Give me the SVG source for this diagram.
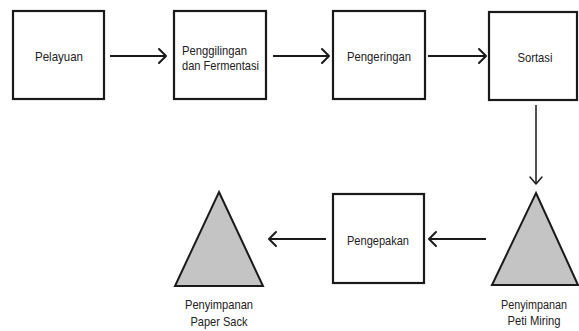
<svg xmlns="http://www.w3.org/2000/svg" width="579" height="331" viewBox="0 0 579 331">
<style>
.box{fill:#fff;stroke:#1a1a1a;stroke-width:2.2}
.tri{fill:#c4c4c4;stroke:#1a1a1a;stroke-width:2}
.ln{stroke:#1a1a1a;stroke-width:2;fill:none}
.hd{stroke:#1a1a1a;stroke-width:2;fill:none;stroke-linecap:round;stroke-linejoin:round}
text{font-family:"Liberation Sans",Arial,sans-serif;font-size:13px;fill:#222}
.c{text-anchor:middle}
.s{font-size:12.5px}
</style>
<rect width="579" height="331" fill="#fff"/>
<g id="connectors">
<line class="ln" x1="110" y1="56" x2="166" y2="56"/><polyline class="hd" points="159,49 166,56 159,63"/>
<line class="ln" x1="273" y1="56" x2="329" y2="56"/><polyline class="hd" points="322,49 329,56 322,63"/>
<line class="ln" x1="428" y1="56" x2="486" y2="56"/><polyline class="hd" points="479,49 486,56 479,63"/>
<line class="ln" x1="536" y1="105" x2="536" y2="184" style="stroke-width:1.5"/><polyline class="hd" points="530,177 536,184 542,177" style="stroke-width:1.5"/>
<line class="ln" x1="486" y1="239" x2="429" y2="239"/><polyline class="hd" points="436,232 429,239 436,246"/>
<line class="ln" x1="326" y1="239" x2="269" y2="239"/><polyline class="hd" points="276,232 269,239 276,246"/>
</g>
<g id="n1"><rect class="box" x="13" y="11" width="91" height="88"/><text class="c" x="59" y="61" textLength="48" lengthAdjust="spacingAndGlyphs">Pelayuan</text></g>
<g id="n2"><rect class="box" x="174" y="11" width="92" height="88"/><text x="182" y="55" textLength="65" lengthAdjust="spacingAndGlyphs">Penggilingan</text><text x="182" y="70" textLength="77" lengthAdjust="spacingAndGlyphs">dan Fermentasi</text></g>
<g id="n3"><rect class="box" x="333" y="11" width="92" height="88"/><text class="c" x="379" y="61" textLength="64" lengthAdjust="spacingAndGlyphs">Pengeringan</text></g>
<g id="n4"><rect class="box" x="489" y="12" width="88" height="88"/><text class="c" x="535" y="62" textLength="35" lengthAdjust="spacingAndGlyphs">Sortasi</text></g>
<g id="n5"><polygon class="tri" points="536,193 578,285 492,285"/><text class="c s" x="534" y="309" textLength="66" lengthAdjust="spacingAndGlyphs">Penyimpanan</text><text class="c s" x="534" y="325" textLength="53" lengthAdjust="spacingAndGlyphs">Peti Miring</text></g>
<g id="n6"><rect class="box" x="333" y="194" width="91" height="89"/><text class="c" x="378" y="245" textLength="62" lengthAdjust="spacingAndGlyphs">Pengepakan</text></g>
<g id="n7"><polygon class="tri" points="219,192 263,286 175,286"/><text class="c" x="219" y="309" textLength="68" lengthAdjust="spacingAndGlyphs">Penyimpanan</text><text class="c" x="219" y="326" textLength="57" lengthAdjust="spacingAndGlyphs">Paper Sack</text></g>
</svg>
